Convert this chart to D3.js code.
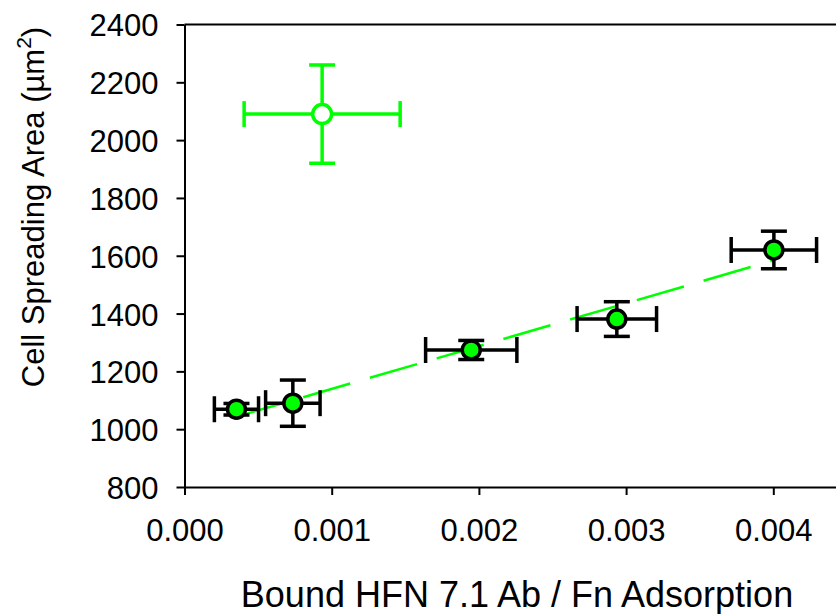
<!DOCTYPE html>
<html>
<head>
<meta charset="utf-8">
<script src="https://cdn.jsdelivr.net/npm/d3@7"></script>
<style>
  html, body { margin: 0; padding: 0; background: #fff; }
  svg { display: block; font-family: "Liberation Sans", Arial, sans-serif; }
</style>
</head>
<body>
<svg id="chart" width="836" height="614"></svg>
<script>
// Filled points (included in linear fit)
const xVals = [0.000353, 0.000736, 0.001948, 0.002937, 0.004004];
const xErr  = [0.00015, 0.000185, 0.00031, 0.00027, 0.00029];
const yVals = [1069, 1090, 1274, 1381, 1620];
const yErr  = [20, 80, 33, 60, 65];
// Open point (excluded from fit)
const openX = [0.000935];
const openXErr = [0.00053];
const openY = [2090];
const openYErr = [170];
// Axis ticks
const xTicks = [0.000, 0.001, 0.002, 0.003, 0.004];
const yTicks = [800, 1000, 1200, 1400, 1600, 1800, 2000, 2200, 2400];

const svg = d3.select("#chart");
const pL = 184.5, pR = 836, pT = 24.5, pB = 487;

const x = d3.scaleLinear().domain([0, 0.004426]).range([pL, pR]);
const y = d3.scaleLinear().domain([800, 2400]).range([pB, pT]);

// frame: top line
svg.append("line").attr("x1", pL).attr("x2", pR).attr("y1", pT).attr("y2", pT)
  .attr("stroke", "#000").attr("stroke-width", 2);

// y axis
const yAxis = svg.append("g").attr("transform", `translate(${pL},0)`)
  .call(d3.axisLeft(y).tickValues(yTicks).tickSize(8).tickPadding(18).tickSizeOuter(0).tickFormat(d3.format("d")));
yAxis.select(".domain").attr("stroke-width", 2);
yAxis.selectAll(".tick line").attr("stroke-width", 2);
yAxis.selectAll(".tick text").attr("font-size", 31).attr("fill", "#000")
  .attr("font-family", "Liberation Sans, Arial, sans-serif").attr("dy", "0.37em");

// x axis
const xAxis = svg.append("g").attr("transform", `translate(0,${pB})`)
  .call(d3.axisBottom(x).tickValues(xTicks).tickSize(8).tickPadding(24).tickSizeOuter(0).tickFormat(d3.format(".3f")));
xAxis.select(".domain").attr("stroke-width", 2);
xAxis.selectAll(".tick line").attr("stroke-width", 2);
xAxis.selectAll(".tick text").attr("font-size", 31).attr("fill", "#000")
  .attr("font-family", "Liberation Sans, Arial, sans-serif");

// regression line through filled points
const n = xVals.length;
const mx = d3.mean(xVals), my = d3.mean(yVals);
let sxy = 0, sxx = 0;
for (let i = 0; i < n; i++) { sxy += (xVals[i]-mx)*(yVals[i]-my); sxx += (xVals[i]-mx)**2; }
const slope = sxy / sxx, icpt = my - slope * mx;
const x0 = d3.min(xVals), x1 = d3.max(xVals);
svg.append("line")
  .attr("x1", x(x0)).attr("y1", y(icpt + slope * x0))
  .attr("x2", x(x1)).attr("y2", y(icpt + slope * x1))
  .attr("stroke", "#00ff00").attr("stroke-width", 2.5)
  .attr("stroke-dasharray", "49,20.5");

function errorBars(g, xs, xe, ys, ye, color) {
  const cap = 13;
  xs.forEach((xv, i) => {
    const cx = x(xv), cy = y(ys[i]);
    const xl = x(xv - xe[i]), xr = x(xv + xe[i]);
    const yt = y(ys[i] + ye[i]), yb = y(ys[i] - ye[i]);
    const gg = g.append("g").attr("stroke", color).attr("stroke-width", 3.5).attr("fill", "none");
    gg.append("line").attr("x1", xl).attr("x2", xr).attr("y1", cy).attr("y2", cy);
    gg.append("line").attr("x1", xl).attr("x2", xl).attr("y1", cy - cap).attr("y2", cy + cap);
    gg.append("line").attr("x1", xr).attr("x2", xr).attr("y1", cy - cap).attr("y2", cy + cap);
    gg.append("line").attr("x1", cx).attr("x2", cx).attr("y1", yt).attr("y2", yb);
    gg.append("line").attr("x1", cx - cap).attr("x2", cx + cap).attr("y1", yt).attr("y2", yt);
    gg.append("line").attr("x1", cx - cap).attr("x2", cx + cap).attr("y1", yb).attr("y2", yb);
  });
}

const marks = svg.append("g");
errorBars(marks, openX, openXErr, openY, openYErr, "#00ff00");
errorBars(marks, xVals, xErr, yVals, yErr, "#000");

marks.selectAll("circle.open").data(openX).join("circle")
  .attr("cx", d => x(d)).attr("cy", (d, i) => y(openY[i])).attr("r", 9.5)
  .attr("fill", "#fff").attr("stroke", "#00ff00").attr("stroke-width", 3.5);

marks.selectAll("circle.fill").data(xVals).join("circle")
  .attr("cx", d => x(d)).attr("cy", (d, i) => y(yVals[i])).attr("r", 9)
  .attr("fill", "#00ff00").attr("stroke", "#000").attr("stroke-width", 3.5);

// axis titles
svg.append("text").attr("x", 517).attr("y", 606.5).attr("text-anchor", "middle")
  .attr("font-size", 36).attr("fill", "#000").text("Bound HFN 7.1 Ab / Fn Adsorption");

const yl = svg.append("text").attr("transform", "translate(43.5,207) rotate(-90)")
  .attr("text-anchor", "middle").attr("font-size", 31).attr("fill", "#000");
yl.append("tspan").text("Cell Spreading Area (\u00b5m");
yl.append("tspan").attr("font-size", 21).attr("dy", -13).text("2");
yl.append("tspan").attr("dy", 13).text(")");
</script>
</body>
</html>
